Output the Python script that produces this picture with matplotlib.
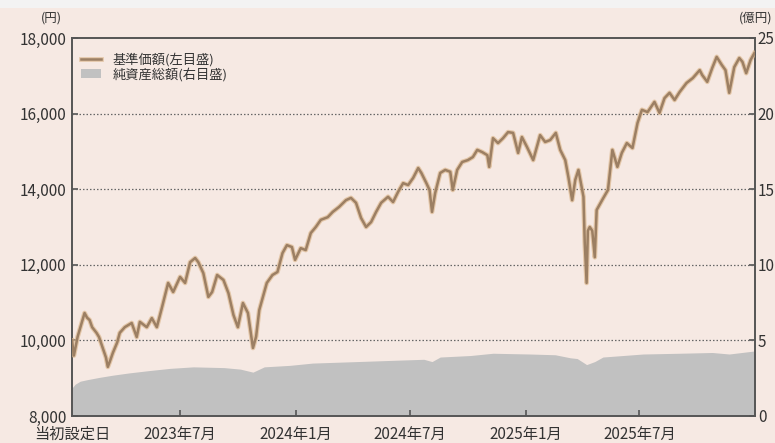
import matplotlib
matplotlib.use("Agg")
import matplotlib.pyplot as plt
import matplotlib.patches as mpatches
import matplotlib.patheffects as pe
from matplotlib.lines import Line2D
import pandas as pd

plt.rcParams['font.family'] = ['Noto Sans CJK JP', 'DejaVu Sans']

# 基準価額 (円)
nav_dates = [
    "2023-01-10", "2023-01-13", "2023-01-19", "2023-01-26", "2023-01-30", "2023-02-03", "2023-02-07",
    "2023-02-11", "2023-02-18", "2023-02-22", "2023-02-28", "2023-03-05", "2023-03-08", "2023-03-11",
    "2023-03-16", "2023-03-23", "2023-03-27", "2023-04-04", "2023-04-15", "2023-04-23", "2023-04-28",
    "2023-05-09", "2023-05-17", "2023-05-25", "2023-06-02", "2023-06-12", "2023-06-20", "2023-07-01",
    "2023-07-09", "2023-07-17", "2023-07-25", "2023-07-30", "2023-08-07", "2023-08-15", "2023-08-21",
    "2023-08-29", "2023-09-08", "2023-09-16", "2023-09-24", "2023-10-01", "2023-10-09", "2023-10-17",
    "2023-10-25", "2023-10-30", "2023-11-04", "2023-11-16", "2023-11-25", "2023-12-03", "2023-12-11",
    "2023-12-18", "2023-12-26", "2023-12-31", "2024-01-09", "2024-01-17", "2024-01-25", "2024-02-02",
    "2024-02-10", "2024-02-21", "2024-02-29", "2024-03-10", "2024-03-21", "2024-03-29", "2024-04-06",
    "2024-04-14", "2024-04-22", "2024-04-30", "2024-05-08", "2024-05-16", "2024-05-27", "2024-06-04",
    "2024-06-12", "2024-06-20", "2024-06-28", "2024-07-06", "2024-07-14", "2024-07-19", "2024-07-27",
    "2024-08-01", "2024-08-05", "2024-08-10", "2024-08-18", "2024-08-26", "2024-09-03", "2024-09-07",
    "2024-09-14", "2024-09-22", "2024-10-01", "2024-10-09", "2024-10-16", "2024-10-24", "2024-11-01",
    "2024-11-04", "2024-11-10", "2024-11-18", "2024-11-26", "2024-12-04", "2024-12-12", "2024-12-20",
    "2024-12-26", "2025-01-03", "2025-01-13", "2025-01-24", "2025-02-01", "2025-02-09", "2025-02-18",
    "2025-02-25", "2025-03-05", "2025-03-10", "2025-03-16", "2025-03-21", "2025-03-26", "2025-03-31",
    "2025-04-03", "2025-04-05", "2025-04-08", "2025-04-10", "2025-04-13", "2025-04-17", "2025-04-21",
    "2025-04-24", "2025-05-04", "2025-05-12", "2025-05-19", "2025-05-27", "2025-06-03", "2025-06-11",
    "2025-06-20", "2025-06-28", "2025-07-05", "2025-07-14", "2025-07-25", "2025-08-02", "2025-08-10",
    "2025-08-18", "2025-08-26", "2025-09-03", "2025-09-14", "2025-09-24", "2025-10-05", "2025-10-09",
    "2025-10-17", "2025-10-25", "2025-11-01", "2025-11-09", "2025-11-15", "2025-11-21", "2025-11-29",
    "2025-12-07", "2025-12-12", "2025-12-18", "2025-12-25", "2025-12-31",
]
nav_values = [
    10000, 9600, 10100, 10500, 10725, 10600, 10540,
    10350, 10200, 10090, 9800, 9550, 9300, 9430,
    9670, 9950, 10200, 10350, 10460, 10090, 10490,
    10350, 10590, 10350, 10860, 11520, 11280, 11680,
    11520, 12070, 12180, 12070, 11780, 11150, 11280,
    11730, 11600, 11250, 10670, 10350, 10990, 10725,
    9800, 10100, 10800, 11520, 11730, 11810, 12310,
    12520, 12470, 12130, 12440, 12390, 12840, 13000,
    13190, 13260, 13400, 13530, 13710, 13770, 13640,
    13240, 13000, 13130, 13400, 13640, 13800, 13660,
    13930, 14160, 14110, 14300, 14560, 14430, 14160,
    13980, 13400, 13900, 14430, 14510, 14460, 13980,
    14510, 14720, 14770, 14850, 15040, 14980, 14900,
    14590, 15350, 15220, 15350, 15510, 15490, 14960,
    15380, 15120, 14770, 15430, 15250, 15300, 15490,
    15040, 14770, 14320, 13710, 14250, 14510, 14060,
    13800, 12600, 11520, 12900, 13000, 12900, 12200,
    13450, 13750, 13980, 15040, 14590, 14960, 15220,
    15090, 15750, 16100, 16040, 16310, 16020, 16410,
    16550, 16360, 16570, 16810, 16940, 17150, 17020,
    16840, 17210, 17500, 17290, 17150, 16550, 17230,
    17470, 17370, 17070, 17420, 17600,
]

# 純資産総額 (億円)
aum_dates = [
    "2023-01-10", "2023-01-15", "2023-01-23", "2023-02-03", "2023-02-22", "2023-03-16", "2023-04-11",
    "2023-05-12", "2023-06-15", "2023-07-22", "2023-09-09", "2023-10-05", "2023-10-25", "2023-11-12",
    "2023-12-23", "2024-01-28", "2024-04-08", "2024-06-17", "2024-07-23", "2024-08-05", "2024-08-18",
    "2024-10-05", "2024-11-10", "2025-01-08", "2025-02-17", "2025-03-13", "2025-03-24", "2025-04-08",
    "2025-04-21", "2025-05-04", "2025-07-07", "2025-09-03", "2025-10-25", "2025-11-21", "2025-12-31",
]
aum_values = [
    1.85, 2.1, 2.3, 2.4, 2.55, 2.7, 2.85,
    3.0, 3.15, 3.25, 3.2, 3.1, 2.9, 3.25,
    3.35, 3.5, 3.6, 3.7, 3.75, 3.6, 3.9,
    4.0, 4.15, 4.1, 4.05, 3.85, 3.8, 3.4,
    3.6, 3.9, 4.1, 4.15, 4.2, 4.1, 4.3,
]

x_tick_dates = ["2023-01-10", "2023-07-01", "2024-01-01", "2024-07-01", "2025-01-01", "2025-07-01"]
x_tick_labels = ["当初設定日", "2023年7月", "2024年1月", "2024年7月", "2025年1月", "2025年7月"]
left_ticks = [8000, 10000, 12000, 14000, 16000, 18000]
left_tick_labels = ["8,000", "10,000", "12,000", "14,000", "16,000", "18,000"]
right_ticks = [0, 5, 10, 15, 20, 25]
right_tick_labels = ["0", "5", "10", "15", "20", "25"]
legend_labels = ["基準価額(左目盛)", "純資産総額(右目盛)"]

BG = "#f6e9e3"
LINE = "#9c7f63"
HALO = "#dcb88f"
AREA = "#c1c1c1"
SPINE = "#555555"
TXT = "#333333"

fig = plt.figure(figsize=(7.75, 4.43), dpi=100, facecolor=BG)
# light strip at the very top
fig.patches.append(mpatches.Rectangle((0, 1 - 8 / 443), 1, 8 / 443, transform=fig.transFigure,
                                      facecolor="#f3f3f3", edgecolor="none", zorder=0))

ax = fig.add_axes([72 / 775, 27 / 443, (755 - 72) / 775, (416 - 38) / 443])
ax2 = ax.twinx()

nd = pd.to_datetime(nav_dates)
ad = pd.to_datetime(aum_dates)

ax2.fill_between(ad, 0, aum_values, color=AREA, linewidth=0, zorder=1)
ax2.set_ylim(0, 25)
ax2.set_yticks(right_ticks)
ax2.set_yticklabels(right_tick_labels)
ax2.patch.set_facecolor("white")

ax.set_zorder(ax2.get_zorder() + 1)
ax.patch.set_visible(False)

halo = [pe.Stroke(linewidth=3.4, foreground=HALO, alpha=0.7), pe.Normal()]
ax.plot(nd, nav_values, color=LINE, linewidth=1.8, zorder=3, solid_joinstyle="round",
        path_effects=halo)
ax.set_ylim(8000, 18000)
ax.set_xlim(pd.Timestamp("2023-01-10"), pd.Timestamp("2026-01-01"))
ax.set_yticks(left_ticks)
ax.set_yticklabels(left_tick_labels)
ax.set_xticks(pd.to_datetime(x_tick_dates))
ax.set_xticklabels(x_tick_labels)

for v in [10000, 12000, 14000, 16000]:
    ax.axhline(v, color="#666666", linewidth=0.9, linestyle=(0, (1.2, 1.6)), zorder=2)

for a in (ax, ax2):
    for s in a.spines.values():
        s.set_color(SPINE)
        s.set_linewidth(1.2)

ax.tick_params(axis="y", direction="in", length=4, width=1.2, color=SPINE, labelsize=11,
               labelcolor=TXT, pad=4)
ax.tick_params(axis="x", direction="in", length=4, width=1.2, color=SPINE, labelsize=11,
               labelcolor=TXT, pad=7)
ax2.tick_params(axis="y", direction="in", length=4, width=1.2, color=SPINE, labelsize=11,
                labelcolor=TXT, pad=2)
# no tick mark at the start date (spine)
ax.xaxis.get_major_ticks()[0].tick1line.set_visible(False)

fig.text(51 / 775, 1 - 18 / 443, "(円)", ha="center", va="center", fontsize=9, color=TXT)
fig.text(739 / 775, 1 - 18 / 443, "(億円)", ha="left", va="center", fontsize=9, color=TXT)

handles = [Line2D([0], [0], color=LINE, linewidth=1.8, path_effects=halo),
           mpatches.Patch(facecolor=AREA, edgecolor="none")]
leg = ax.legend(handles, legend_labels, loc="upper left", bbox_to_anchor=(0.0, 0.985),
                frameon=False, fontsize=9.5, handlelength=1.5, handleheight=0.7,
                handletextpad=0.9, labelspacing=0.05, borderaxespad=0.3)
for t in leg.get_texts():
    t.set_color(TXT)

fig.savefig("out.png", dpi=100, facecolor=BG)
